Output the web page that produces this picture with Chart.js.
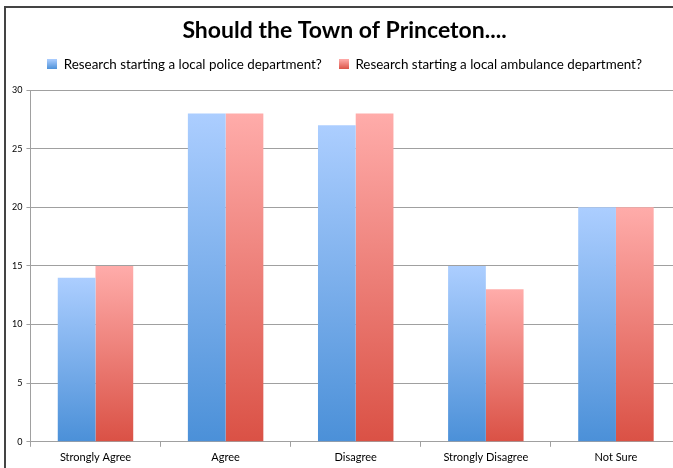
<!DOCTYPE html>
<html>
<head>
<meta charset="utf-8">
<script src="https://cdn.jsdelivr.net/npm/chart.js@4.4.0/dist/chart.umd.min.js"></script>
<style>
  html, body { margin: 0; padding: 0; background: #fff; overflow: hidden; }
  body { width: 673px; height: 468px; position: relative; }
  #frame {
    position: absolute; left: 4px; top: 6px; width: 690px; height: 470px;
    border-left: 2px solid #444; border-top: 2px solid #444; box-sizing: border-box;
  }
  #wrap { position: absolute; left: 0; top: 0; width: 688px; height: 462px; }
</style>
</head>
<body>
<div id="frame"><div id="wrap"><canvas id="chart-survey"></canvas></div></div>
<script>
const categories = ["Strongly Agree", "Agree", "Disagree", "Strongly Disagree", "Not Sure"];
const police_values = [14, 28, 27, 15, 20];
const ambulance_values = [15, 28, 28, 13, 20];
const y_ticks = [0, 5, 10, 15, 20, 25, 30];

const FONT = "Lato, 'Open Sans', sans-serif";

// vertical gradient per bar, light at the top, darker at the base
function barGradient(top_color, bottom_color) {
  return ctx => {
    const chart = ctx.chart;
    if (!chart.chartArea || ctx.dataIndex === undefined) return bottom_color;
    const y = chart.scales.y;
    const v = ctx.dataset.data[ctx.dataIndex];
    const g = chart.ctx.createLinearGradient(0, y.getPixelForValue(v), 0, y.getPixelForValue(0));
    g.addColorStop(0, top_color);
    g.addColorStop(1, bottom_color);
    return g;
  };
}

function legendBox(top_color, bottom_color) {
  const c = document.createElement("canvas");
  c.width = 10; c.height = 10;
  const x = c.getContext("2d");
  const g = x.createLinearGradient(0, 0, 0, 10);
  g.addColorStop(0, top_color);
  g.addColorStop(1, bottom_color);
  x.fillStyle = g;
  x.fillRect(0, 0, 10, 10);
  return c;
}

const blue_top = "#acceff", blue_bottom = "#4b90d8";
const red_top = "#ffacaa", red_bottom = "#da5145";

// a bit more room between legend and plot
const legendGap = {
  id: "legendGap",
  beforeInit(chart) {
    const fit = chart.legend.fit;
    chart.legend.fit = function () {
      fit.bind(chart.legend)();
      this.height += 9;
    };
  },
};

const chart_survey = new Chart(document.getElementById("chart-survey"), {
  type: "bar",
  data: {
    labels: categories,
    datasets: [
      {
        label: "Research starting a local police department?",
        data: police_values,
        backgroundColor: barGradient(blue_top, blue_bottom),
        borderWidth: 0,
      },
      {
        label: "Research starting a local ambulance department?",
        data: ambulance_values,
        backgroundColor: barGradient(red_top, red_bottom),
        borderWidth: 0,
      },
    ],
  },
  plugins: [legendGap],
  options: {
    responsive: true,
    maintainAspectRatio: false,
    animation: false,
    datasets: { bar: { categoryPercentage: 0.58, barPercentage: 1.0 } },
    layout: { padding: { left: 2, right: 13, top: 2, bottom: 2 } },
    plugins: {
      title: {
        display: true,
        text: "Should the Town of Princeton....",
        color: "#000",
        font: { family: FONT, size: 23, weight: "bold" },
        padding: { top: 7, bottom: 3 },
      },
      legend: {
        display: true,
        labels: {
          color: "#000",
          font: { family: FONT, size: 13.4 },
          usePointStyle: true,
          boxWidth: 10,
          boxHeight: 10,
          padding: 10,
          generateLabels: chart => [
            { text: chart.data.datasets[0].label + "  ", pointStyle: legendBox(blue_top, blue_bottom), datasetIndex: 0, lineWidth: 0, strokeStyle: "transparent", fontColor: "#000" },
            { text: chart.data.datasets[1].label, pointStyle: legendBox(red_top, red_bottom), datasetIndex: 1, lineWidth: 0, strokeStyle: "transparent", fontColor: "#000" },
          ],
        },
      },
      tooltip: { enabled: false },
    },
    scales: {
      x: {
        grid: { display: true, drawOnChartArea: false, drawTicks: true, tickLength: 5, color: "#a0a0a0" },
        border: { display: true, color: "#a0a0a0" },
        ticks: { color: "#000", font: { family: FONT, size: 11 }, padding: 4, maxRotation: 0 },
      },
      y: {
        min: 0,
        max: 30,
        afterBuildTicks: axis => { axis.ticks = y_ticks.map(v => ({ value: v })); },
        grid: { color: "#a0a0a0", tickLength: 4 },
        border: { display: true, color: "#a0a0a0" },
        ticks: { color: "#000", font: { family: FONT, size: 9 }, padding: 4 },
      },
    },
  },
});
</script>
</body>
</html>
